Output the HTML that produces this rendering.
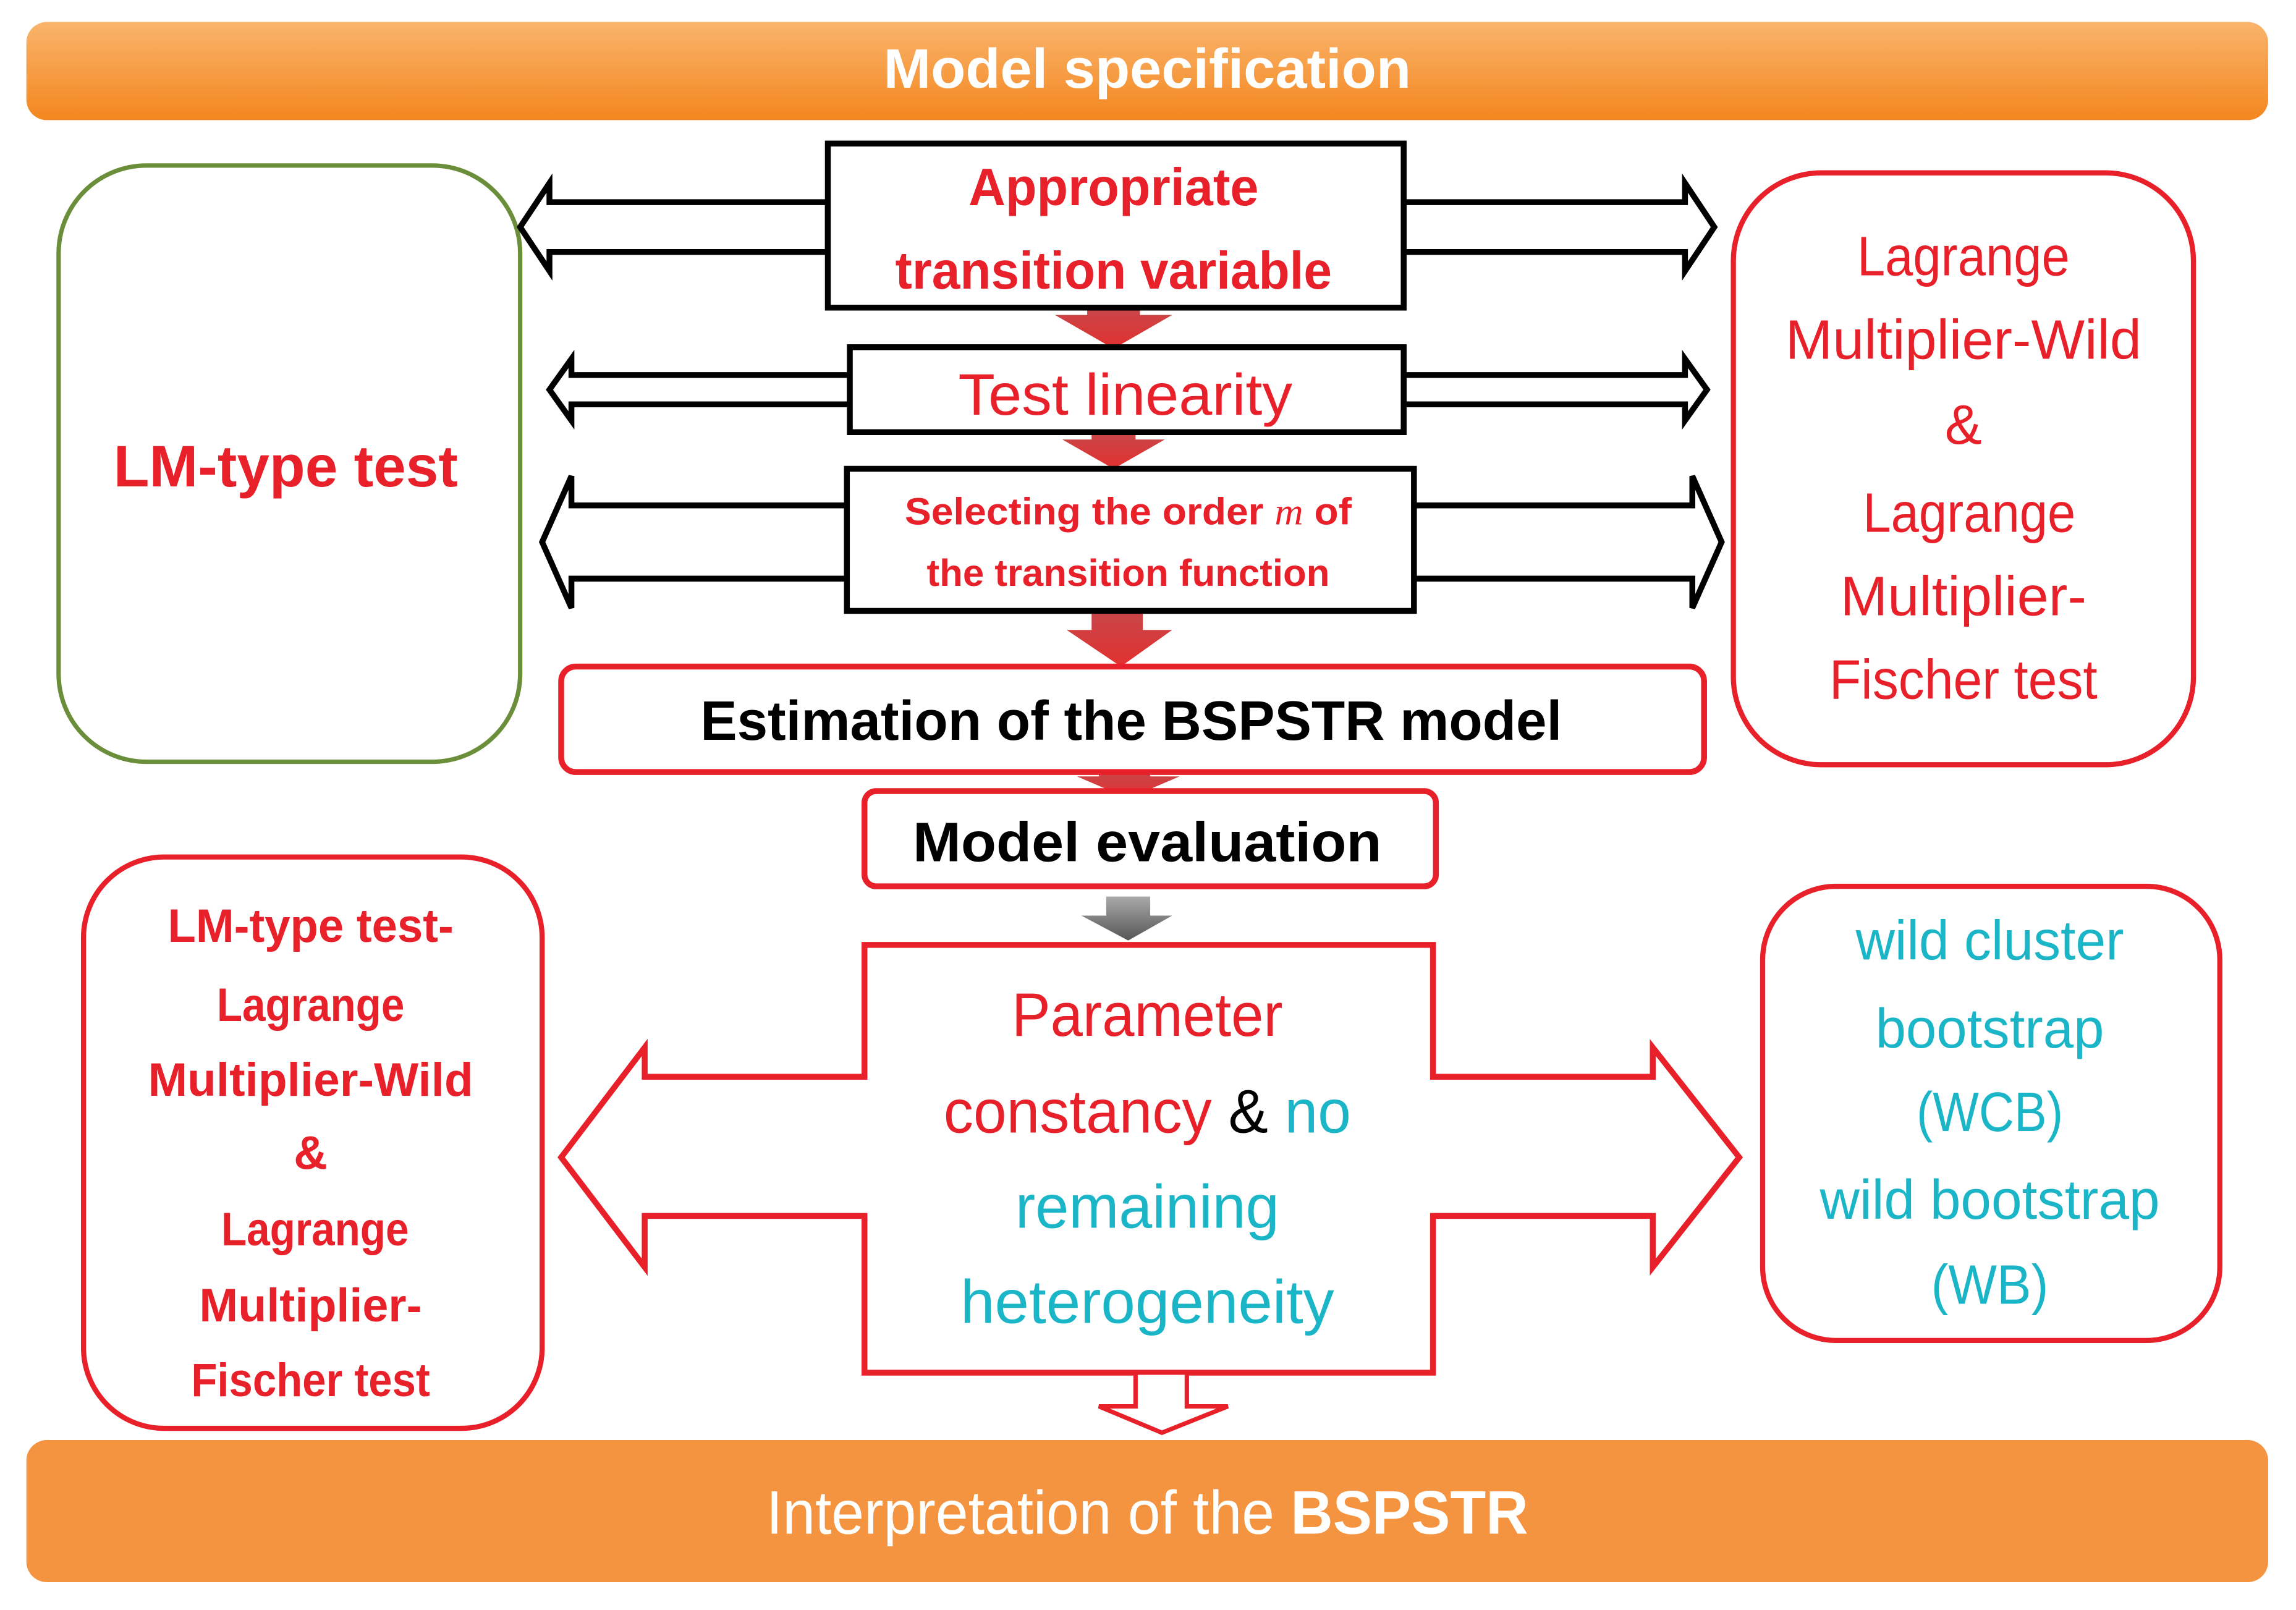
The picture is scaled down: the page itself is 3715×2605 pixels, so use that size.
<!DOCTYPE html>
<html><head><meta charset="utf-8"><style>
html,body{margin:0;padding:0;background:#fff;width:3715px;height:2605px;overflow:hidden}
svg{display:block}
text{font-family:"Liberation Sans Narrow","Liberation Sans",sans-serif;text-anchor:middle}
</style></head><body>
<svg width="3715" height="2605" viewBox="0 0 1567 1099" preserveAspectRatio="none" xmlns="http://www.w3.org/2000/svg">
<defs>
<linearGradient id="og" x1="0" y1="0" x2="0" y2="1"><stop offset="0" stop-color="#f9b46c"/><stop offset="1" stop-color="#f4861f"/></linearGradient>
<linearGradient id="rd" x1="0" y1="0" x2="0" y2="1"><stop offset="0" stop-color="#c8474a"/><stop offset="1" stop-color="#e2302f"/></linearGradient>
<linearGradient id="gr" x1="0" y1="0" x2="0" y2="1"><stop offset="0" stop-color="#aaa"/><stop offset="1" stop-color="#555"/></linearGradient>
</defs>
<rect x="0" y="0" width="1567" height="1099" fill="#fff"/>
<!-- top bar -->
<rect x="18" y="15" width="1530" height="67" rx="14" fill="url(#og)"/>
<text x="783" y="60" font-size="38" font-weight="bold" fill="#fff" textLength="360" lengthAdjust="spacingAndGlyphs">Model specification</text>
<!-- bottom bar -->
<rect x="18" y="983" width="1530" height="97" rx="14" fill="#f59440"/>
<text x="783" y="1047" font-size="42" fill="#fff" textLength="520" lengthAdjust="spacingAndGlyphs">Interpretation of the <tspan font-weight="bold">BSPSTR</tspan></text>
<!-- side boxes -->
<rect x="40" y="113" width="315" height="407" rx="60" fill="#fff" stroke="#6b8e3a" stroke-width="3"/>
<text x="195" y="332" font-size="40" font-weight="bold" fill="#e8202a" textLength="235" lengthAdjust="spacingAndGlyphs">LM-type test</text>
<rect x="1183" y="118" width="314" height="404" rx="60" fill="#fff" stroke="#e8202a" stroke-width="3.5"/>
<g font-size="38" fill="#e8202a">
<text x="1340" y="188" textLength="145" lengthAdjust="spacingAndGlyphs">Lagrange</text>
<text x="1340" y="245" textLength="243" lengthAdjust="spacingAndGlyphs">Multiplier-Wild</text>
<text x="1340" y="303">&amp;</text>
<text x="1344" y="363" textLength="145" lengthAdjust="spacingAndGlyphs">Lagrange</text>
<text x="1340" y="420" textLength="168" lengthAdjust="spacingAndGlyphs">Multiplier-</text>
<text x="1340" y="477" textLength="183" lengthAdjust="spacingAndGlyphs">Fischer test</text>
</g>
<rect x="57" y="585" width="313" height="390" rx="55" fill="#fff" stroke="#e8202a" stroke-width="3.5"/>
<g font-size="32" font-weight="bold" fill="#e8202a">
<text x="212" y="643" textLength="195" lengthAdjust="spacingAndGlyphs">LM-type test-</text>
<text x="212" y="697" textLength="128" lengthAdjust="spacingAndGlyphs">Lagrange</text>
<text x="212" y="748" textLength="222" lengthAdjust="spacingAndGlyphs">Multiplier-Wild</text>
<text x="212" y="798">&amp;</text>
<text x="215" y="850" textLength="128" lengthAdjust="spacingAndGlyphs">Lagrange</text>
<text x="212" y="902" textLength="152" lengthAdjust="spacingAndGlyphs">Multiplier-</text>
<text x="212" y="953" textLength="163" lengthAdjust="spacingAndGlyphs">Fischer test</text>
</g>
<rect x="1203" y="605" width="312" height="310" rx="50" fill="#fff" stroke="#e8202a" stroke-width="3.5"/>
<g font-size="38" fill="#1bb5c8">
<text x="1358" y="655" textLength="183" lengthAdjust="spacingAndGlyphs">wild cluster</text>
<text x="1358" y="715" textLength="156" lengthAdjust="spacingAndGlyphs">bootstrap</text>
<text x="1358" y="772" textLength="100" lengthAdjust="spacingAndGlyphs">(WCB)</text>
<text x="1358" y="832" textLength="232" lengthAdjust="spacingAndGlyphs">wild bootstrap</text>
<text x="1358" y="890" textLength="80" lengthAdjust="spacingAndGlyphs">(WB)</text>
</g>
<!-- double arrows (black) -->
<g fill="#fff" stroke="#000" stroke-width="4" stroke-linejoin="miter">
<polygon points="565,138 375,138 375,125 355,155 375,185 375,172 565,172"/>
<polygon points="958,138 1150,138 1150,125 1170,155 1150,185 1150,172 958,172"/>
<polygon points="580,256 390,256 390,245 375,266 390,287 390,276 580,276"/>
<polygon points="958,256 1150,256 1150,245 1165,266 1150,287 1150,276 958,276"/>
<polygon points="578,345 390,345 390,325 370,370 390,415 390,395 578,395"/>
<polygon points="965,345 1155,345 1155,325 1175,370 1155,415 1155,395 965,395"/>
</g>
<!-- red down arrows -->
<g fill="url(#rd)">
<polygon points="742,210 778,210 778,215 800,215 760,238 720,215 742,215"/>
<polygon points="745,295 775,295 775,300 795,300 760,320 725,300 745,300"/>
<polygon points="745,417 780,417 780,430 800,430 765,455 728,430 745,430"/>
<polygon points="750,527 785,527 785,530 805,530 770,545 735,530 750,530"/>
</g>
<polygon points="755,612 785,612 785,625 800,625 770,642 738,625 755,625" fill="url(#gr)"/>
<!-- center boxes -->
<rect x="565" y="98" width="393" height="112" fill="#fff" stroke="#000" stroke-width="4"/>
<g font-size="36" font-weight="bold" fill="#e8202a">
<text x="760" y="140" textLength="198" lengthAdjust="spacingAndGlyphs">Appropriate</text>
<text x="760" y="197" textLength="298" lengthAdjust="spacingAndGlyphs">transition variable</text>
</g>
<rect x="580" y="237" width="378" height="58" fill="#fff" stroke="#000" stroke-width="4"/>
<text x="768" y="283" font-size="40" fill="#e8202a" textLength="228" lengthAdjust="spacingAndGlyphs">Test linearity</text>
<rect x="578" y="320" width="387" height="97" fill="#fff" stroke="#000" stroke-width="4"/>
<g font-size="26" font-weight="bold" fill="#e8202a">
<text x="770" y="358" textLength="305" lengthAdjust="spacingAndGlyphs">Selecting the order <tspan font-family="Liberation Serif" font-style="italic" font-weight="normal">m</tspan> of</text>
<text x="770" y="400" textLength="275" lengthAdjust="spacingAndGlyphs">the transition function</text>
</g>
<rect x="383" y="455" width="780" height="72" rx="10" fill="#fff" stroke="#e8202a" stroke-width="4"/>
<text x="772" y="505" font-size="38" font-weight="bold" fill="#000" textLength="588" lengthAdjust="spacingAndGlyphs">Estimation of the BSPSTR model</text>
<rect x="590" y="540" width="390" height="65" rx="8" fill="#fff" stroke="#e8202a" stroke-width="4"/>
<text x="783" y="588" font-size="38" font-weight="bold" fill="#000" textLength="320" lengthAdjust="spacingAndGlyphs">Model evaluation</text>
<!-- big cross arrow -->
<polygon points="590,645 978,645 978,735 1128,735 1128,715 1187,790 1128,865 1128,830 978,830 978,937 590,937 590,830 440,830 440,865 383,790 440,715 440,735 590,735" fill="#fff" stroke="#e8202a" stroke-width="4"/>
<g font-size="42">
<text x="783" y="707" fill="#e8202a" textLength="185" lengthAdjust="spacingAndGlyphs">Parameter</text>
<text x="783" y="773" textLength="278" lengthAdjust="spacingAndGlyphs"><tspan fill="#e8202a">constancy</tspan><tspan fill="#000"> &amp; </tspan><tspan fill="#1bb5c8">no</tspan></text>
<text x="783" y="838" fill="#1bb5c8" textLength="180" lengthAdjust="spacingAndGlyphs">remaining</text>
<text x="783" y="903" fill="#1bb5c8" textLength="255" lengthAdjust="spacingAndGlyphs">heterogeneity</text>
</g>
<polygon points="775,937 810,937 810,960 838,960 793,978 750,960 775,960" fill="#fff" stroke="#e8202a" stroke-width="3"/>
</svg>
</body></html>
